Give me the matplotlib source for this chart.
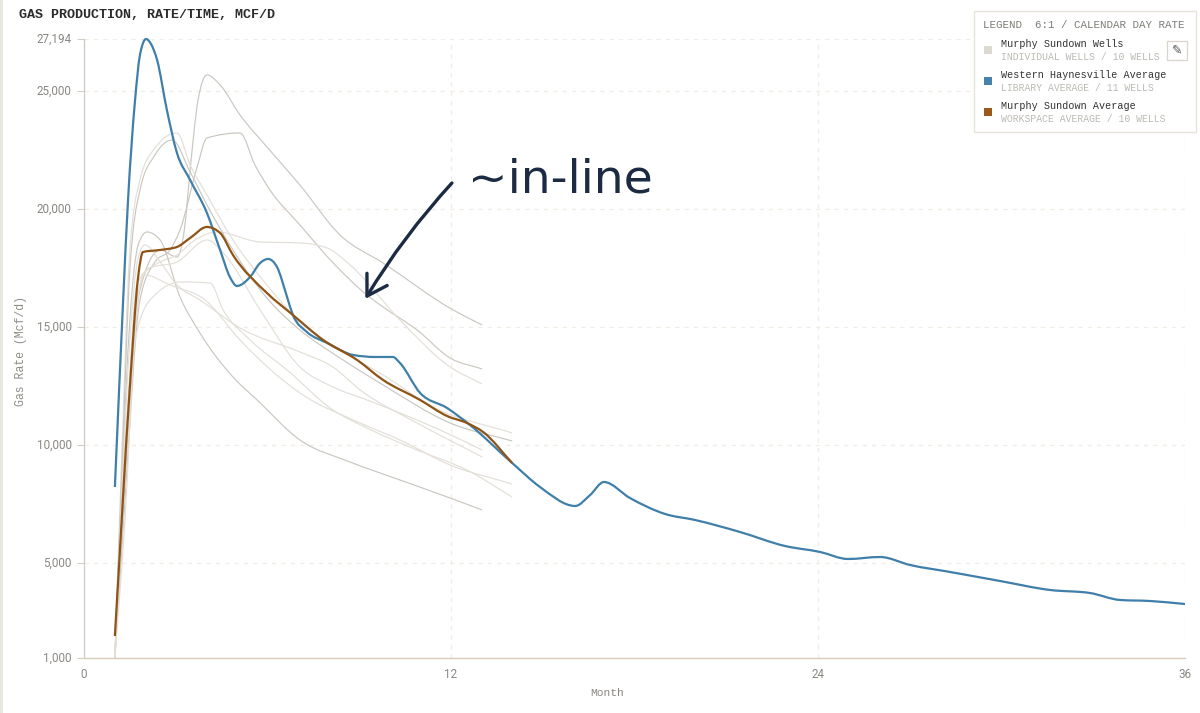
import numpy as np
import matplotlib
matplotlib.use("Agg")
import matplotlib.pyplot as plt
from matplotlib.path import Path
from matplotlib.patches import PathPatch, Rectangle

# y axis / x axis ticks
y_ticks = [1000, 5000, 10000, 15000, 20000, 25000, 27194]
y_tick_labels = ["1,000", "5,000", "10,000", "15,000", "20,000", "25,000", "27,194"]
x_ticks = [0, 12, 24, 36]

# Western Haynesville average
library_month = [1.01, 1.28, 1.44, 1.67, 1.83, 2.03, 2.19, 2.39, 2.71, 3.04, 3.47, 4.02, 4.45, 4.77, 5.0, 5.43, 5.76,
                 6.02, 6.31, 6.64, 6.83, 7.29, 7.95, 8.8, 9.52, 10.1, 10.33, 10.99, 11.87, 12.62, 14.0, 14.91, 16.06,
                 16.55, 17.0, 17.85, 19.0, 19.98, 21.45, 22.92, 24.07, 24.98, 26.03, 27.01, 28.32, 29.95, 31.59, 32.89,
                 33.88, 34.86, 36.0]
library_rate = [8237, 16150, 20383, 24615, 26520, 27194, 26984, 26307, 24191, 22372, 21229, 19832, 18267, 17124, 16743,
                17124, 17716, 17886, 17547, 16278, 15516, 14796, 14331, 13823, 13738, 13738, 13484, 12215, 11580, 10861,
                9252, 8237, 7433, 7898, 8448, 7771, 7094, 6840, 6332, 5740, 5486, 5190, 5274, 4936, 4640, 4259, 3878,
                3751, 3455, 3412, 3285]

# Murphy Sundown average
workspace_month = [1.01, 1.5, 1.77, 1.93, 2.49, 3.04, 3.47, 4.02, 4.45, 4.87, 5.98, 6.83, 7.82, 8.93, 9.78, 10.99,
                   11.87, 12.52, 13.05, 14.0]
workspace_rate = [1931, 12469, 17124, 18182, 18267, 18394, 18774, 19240, 18986, 18055, 16447, 15516, 14458, 13611,
                  12765, 11919, 11241, 10945, 10564, 9252]

# Murphy Sundown wells
well_1_month = [1.01, 1.34, 1.83, 2.49, 3.04, 3.30, 3.47, 3.73, 4.02, 4.45, 5.10, 5.98, 7.06, 8.37, 9.78, 12.07, 13.02]
well_1_rate = [1000, 8533, 16574, 18267, 17970, 19325, 21652, 24615, 25673, 25250, 23980, 22626, 21017, 18901, 17716,
               15727, 15093]
well_2_month = [1.01, 1.34, 1.83, 2.32, 2.81, 3.14, 3.70, 4.02, 5.10, 5.59, 6.08, 7.06, 8.21, 9.25, 9.78, 10.89,
                11.97, 13.02]
well_2_rate = [1000, 7687, 16150, 17759, 18267, 19113, 21779, 23006, 23218, 21864, 20806, 19325, 17632, 16362, 15854,
               14881, 13696, 13230]
well_3_month = [1.01, 1.34, 1.67, 1.93, 2.49, 3.04, 3.63, 4.35, 5.76, 7.06, 7.95, 8.70, 10.33, 11.97, 13.02]
well_3_rate = [1000, 6840, 14881, 17209, 17759, 18055, 18690, 19028, 18605, 18563, 18351, 17632, 15304, 13315, 12596]
well_4_month = [1.01, 1.24, 1.50, 1.83, 2.32, 3.04, 3.47, 4.02, 4.87, 5.98, 7.06, 8.37, 9.78, 11.41, 14.0]
well_4_rate = [1000, 9803, 18267, 21229, 22583, 23218, 21864, 20594, 18690, 16785, 15220, 14035, 12976, 11622, 10522]
well_5_month = [1.01, 1.24, 1.50, 1.83, 2.32, 2.88, 3.47, 4.02, 4.87, 5.98, 7.06, 8.37, 9.78, 11.97, 14.0]
well_5_rate = [1000, 8956, 17420, 20806, 22287, 22922, 21568, 20171, 18267, 16235, 14881, 13696, 12553, 10945, 10183]
well_6_month = [1.01, 1.24, 1.50, 1.77, 2.06, 2.49, 3.14, 3.79, 4.87, 5.66, 7.06, 8.70, 10.33, 11.97, 13.02]
well_6_rate = [1000, 8533, 15304, 18478, 19028, 18690, 16278, 14754, 12892, 11919, 10226, 9295, 8533, 7771, 7263]
well_7_month = [1.01, 1.24, 1.50, 1.77, 1.99, 2.49, 3.04, 3.79, 5.10, 7.06, 8.14, 9.03, 10.89, 13.02]
well_7_rate = [1000, 8110, 14458, 17928, 18478, 17759, 16785, 16150, 14966, 13950, 13315, 12342, 10945, 9506]
well_8_month = [1.01, 1.24, 1.44, 1.73, 2.16, 3.04, 4.02, 4.61, 5.76, 7.06, 8.14, 9.25, 10.33, 11.64, 13.02]
well_8_rate = [1000, 7687, 11919, 16785, 17505, 17759, 18690, 18055, 15727, 13315, 12469, 11919, 11368, 10649, 9803]
well_9_month = [1.01, 1.24, 1.50, 1.73, 1.99, 2.81, 3.96, 5.10, 7.06, 9.03, 10.33, 11.97, 14.0]
well_9_rate = [1000, 6840, 11919, 16150, 17209, 16785, 16150, 14458, 12215, 10945, 10226, 9168, 8364]
well_10_month = [1.01, 1.11, 1.34, 1.83, 2.39, 3.14, 4.12, 4.55, 5.43, 6.64, 8.14, 9.25, 10.89, 12.52, 14.0]
well_10_rate = [1000, 3455, 9803, 15304, 16447, 16912, 16870, 15727, 14458, 13188, 11495, 10734, 9803, 8956, 7814]


def monotone_path(xs, ys):
    # monotone-x curve (Steffen tangents): bezier segments with no overshoot
    xs = np.asarray(xs, dtype=float)
    ys = np.asarray(ys, dtype=float)
    h = np.diff(xs)
    s = np.diff(ys) / h
    t = np.zeros(len(xs))
    t[0] = s[0]
    t[-1] = s[-1]
    for i in range(1, len(xs) - 1):
        p = (s[i - 1] * h[i] + s[i] * h[i - 1]) / (h[i - 1] + h[i])
        t[i] = (np.sign(s[i - 1]) + np.sign(s[i])) * min(abs(s[i - 1]), abs(s[i]), 0.5 * abs(p))
    verts = [(xs[0], ys[0])]
    codes = [Path.MOVETO]
    for i in range(len(h)):
        verts.append((xs[i] + h[i] / 3, ys[i] + t[i] * h[i] / 3))
        verts.append((xs[i + 1] - h[i] / 3, ys[i + 1] - t[i + 1] * h[i] / 3))
        verts.append((xs[i + 1], ys[i + 1]))
        codes += [Path.CURVE4] * 3
    return Path(verts, codes)


def draw_curve(ax, xs, ys, color, lw, z):
    ax.add_patch(PathPatch(monotone_path(xs, ys), fill=False, edgecolor=color, lw=lw, zorder=z,
                           clip_on=False, capstyle="butt", joinstyle="round"))


fig = plt.figure(figsize=(12, 7.13), dpi=100, facecolor="white")
ax = fig.add_axes([84 / 1200, 1 - 658 / 713, (1185 - 84) / 1200, (658 - 39) / 713])
ax.set_xlim(0, 36)
ax.set_ylim(1000, 27194)

# axes styling
for side in ["top", "right"]:
    ax.spines[side].set_visible(False)
ax.spines["left"].set_color("#d2cec7")
ax.spines["left"].set_linewidth(1.0)
ax.spines["bottom"].set_color("#d8ccbc")
ax.spines["bottom"].set_linewidth(1.0)
ax.set_yticks(y_ticks)
ax.set_yticklabels(y_tick_labels)
ax.set_xticks(x_ticks)
ax.tick_params(axis="y", length=5, width=0.8, color="#d2cec7", labelcolor="#8a8782", labelsize=8.4, pad=4)
ax.tick_params(axis="x", length=0, labelcolor="#8a8782", labelsize=8.4, pad=7)
for lab in ax.get_xticklabels() + ax.get_yticklabels():
    lab.set_fontfamily("Roboto")
for lab in ax.get_yticklabels():
    lab.set_verticalalignment("center")
ax.grid(True, color="#f1ede6", lw=0.9, ls=(0, (3.5, 4)))
ax.set_axisbelow(True)

# wells, darker ones first so the pale ones sit beside them
dark = "#cbc7c0"
pale = "#e3dfd8"
draw_curve(ax, well_1_month, well_1_rate, dark, 0.85, 2)
draw_curve(ax, well_2_month, well_2_rate, dark, 0.85, 2)
draw_curve(ax, well_3_month, well_3_rate, pale, 0.85, 2)
draw_curve(ax, well_4_month, well_4_rate, pale, 0.85, 2)
draw_curve(ax, well_5_month, well_5_rate, dark, 0.85, 2)
draw_curve(ax, well_6_month, well_6_rate, dark, 0.85, 2)
draw_curve(ax, well_7_month, well_7_rate, pale, 0.85, 2)
draw_curve(ax, well_8_month, well_8_rate, pale, 0.85, 2)
draw_curve(ax, well_9_month, well_9_rate, pale, 0.85, 2)
draw_curve(ax, well_10_month, well_10_rate, pale, 0.85, 2)

draw_curve(ax, library_month, library_rate, "#3f7fa9", 1.6, 4)
draw_curve(ax, workspace_month, workspace_rate, "#8f5415", 1.6, 5)

# hand drawn note
ink = "#1c2b42"
ax.annotate("", xy=(9.2, 16200), xytext=(12.03, 21100), zorder=8,
            arrowprops=dict(arrowstyle="->,head_length=1.4,head_width=0.85", color=ink, lw=2.4,
                            connectionstyle="arc3,rad=0.05", shrinkA=0, shrinkB=0))

# everything else is placed in image pixels on a clear overlay
over = fig.add_axes([0, 0, 1, 1], facecolor="none")
over.set_xlim(0, 1200)
over.set_ylim(713, 0)
over.axis("off")
over.add_patch(Rectangle((0, 0), 2.5, 713, facecolor="#e9e8df", edgecolor="none"))

mono = "Liberation Mono"
over.text(19, 15, "GAS PRODUCTION, RATE/TIME, MCF/D", family=mono, weight="bold", fontsize=9.6, color="#2b2b2b",
          va="center")
over.text(21, 351, "Gas Rate (Mcf/d)", family=mono, fontsize=8.3, color="#8f8c87", rotation=90, ha="center",
          va="center")
over.text(607, 693, "Month", family=mono, fontsize=8.1, color="#8a8782", ha="center", va="center")
over.text(468, 180, "~in-line", family="DejaVu Sans", fontsize=34, color=ink, va="center", zorder=9)

# legend box
over.add_patch(Rectangle((974, 11), 222, 121, facecolor="white", edgecolor="#e6e3db", lw=1.0, zorder=10))
over.text(983, 25, "LEGEND  6:1 / CALENDAR DAY RATE", family=mono, fontsize=7.85, color="#7d7b75", va="center",
          zorder=11)
legend_rows = [
    ("Murphy Sundown Wells", "INDIVIDUAL WELLS / 10 WELLS", "#dcd8d2", 44),
    ("Western Haynesville Average", "LIBRARY AVERAGE / 11 WELLS", "#4682ab", 75),
    ("Murphy Sundown Average", "WORKSPACE AVERAGE / 10 WELLS", "#9a5a1a", 106),
]
for name, sub, swatch, y in legend_rows:
    over.add_patch(Rectangle((984, y + 2), 8, 8, facecolor=swatch, edgecolor="none", zorder=11))
    over.text(1001, y, name, family=mono, fontsize=7.25, color="#333333", va="center", zorder=11)
    over.text(1001, y + 13, sub, family=mono, fontsize=7.0, color="#bdbab4", va="center", zorder=11)

# pencil button
over.add_patch(Rectangle((1167, 41), 20, 19, facecolor="white", edgecolor="#d8d5cd", lw=0.9, zorder=11))
over.text(1177, 50.5, "\u270e", family="DejaVu Sans", fontsize=9, color="#555555", ha="center", va="center",
          zorder=12)

fig.savefig("out.png", dpi=100)
